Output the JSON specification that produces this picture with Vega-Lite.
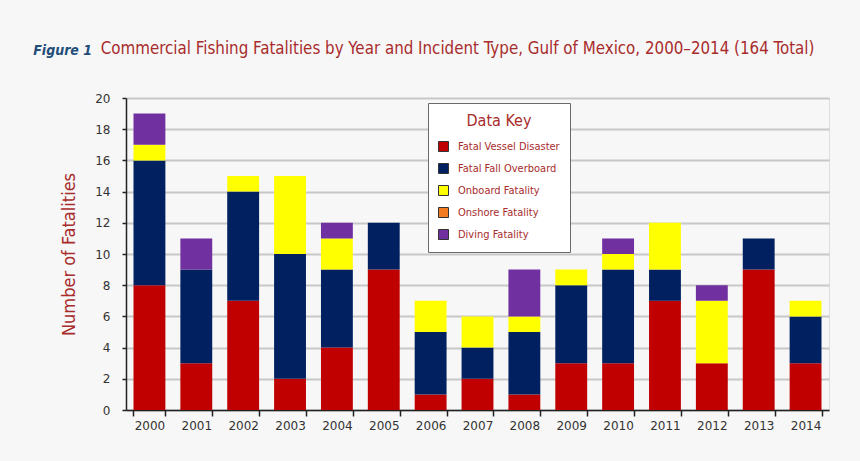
{
  "$schema": "https://vega.github.io/schema/vega-lite/v6.json",
  "background": "#f7f7f7",
  "padding": {"left": 33, "top": 40, "right": 31, "bottom": 29},
  "title": {
    "text": "Figure 1",
    "anchor": "start",
    "font": "DejaVu Sans Condensed",
    "fontStyle": "italic",
    "fontWeight": "bold",
    "fontSize": 14,
    "color": "#1f4e79",
    "dx": -27,
    "dy": 21
  },
  "vconcat": [
    {
      "title": {
        "text": "Commercial Fishing Fatalities by Year and Incident Type, Gulf of Mexico, 2000–2014 (164 Total)",
        "anchor": "start",
        "dx": 40,
        "dy": 4,
        "offset": 38,
        "font": "DejaVu Sans Condensed",
        "fontWeight": "normal",
        "fontSize": 16.8,
        "color": "#a82c2c"
      },
      "width": 703,
      "height": 312,
      "data": {
        "values": [
          {"year": "2000", "type": "Fatal Vessel Disaster", "n": 8},
          {"year": "2000", "type": "Fatal Fall Overboard", "n": 8},
          {"year": "2000", "type": "Onboard Fatality", "n": 1},
          {"year": "2000", "type": "Diving Fatality", "n": 2},
          {"year": "2001", "type": "Fatal Vessel Disaster", "n": 3},
          {"year": "2001", "type": "Fatal Fall Overboard", "n": 6},
          {"year": "2001", "type": "Diving Fatality", "n": 2},
          {"year": "2002", "type": "Fatal Vessel Disaster", "n": 7},
          {"year": "2002", "type": "Fatal Fall Overboard", "n": 7},
          {"year": "2002", "type": "Onboard Fatality", "n": 1},
          {"year": "2003", "type": "Fatal Vessel Disaster", "n": 2},
          {"year": "2003", "type": "Fatal Fall Overboard", "n": 8},
          {"year": "2003", "type": "Onboard Fatality", "n": 5},
          {"year": "2004", "type": "Fatal Vessel Disaster", "n": 4},
          {"year": "2004", "type": "Fatal Fall Overboard", "n": 5},
          {"year": "2004", "type": "Onboard Fatality", "n": 2},
          {"year": "2004", "type": "Diving Fatality", "n": 1},
          {"year": "2005", "type": "Fatal Vessel Disaster", "n": 9},
          {"year": "2005", "type": "Fatal Fall Overboard", "n": 3},
          {"year": "2006", "type": "Fatal Vessel Disaster", "n": 1},
          {"year": "2006", "type": "Fatal Fall Overboard", "n": 4},
          {"year": "2006", "type": "Onboard Fatality", "n": 2},
          {"year": "2007", "type": "Fatal Vessel Disaster", "n": 2},
          {"year": "2007", "type": "Fatal Fall Overboard", "n": 2},
          {"year": "2007", "type": "Onboard Fatality", "n": 2},
          {"year": "2008", "type": "Fatal Vessel Disaster", "n": 1},
          {"year": "2008", "type": "Fatal Fall Overboard", "n": 4},
          {"year": "2008", "type": "Onboard Fatality", "n": 1},
          {"year": "2008", "type": "Diving Fatality", "n": 3},
          {"year": "2009", "type": "Fatal Vessel Disaster", "n": 3},
          {"year": "2009", "type": "Fatal Fall Overboard", "n": 5},
          {"year": "2009", "type": "Onboard Fatality", "n": 1},
          {"year": "2010", "type": "Fatal Vessel Disaster", "n": 3},
          {"year": "2010", "type": "Fatal Fall Overboard", "n": 6},
          {"year": "2010", "type": "Onboard Fatality", "n": 1},
          {"year": "2010", "type": "Diving Fatality", "n": 1},
          {"year": "2011", "type": "Fatal Vessel Disaster", "n": 7},
          {"year": "2011", "type": "Fatal Fall Overboard", "n": 2},
          {"year": "2011", "type": "Onboard Fatality", "n": 3},
          {"year": "2012", "type": "Fatal Vessel Disaster", "n": 3},
          {"year": "2012", "type": "Onboard Fatality", "n": 4},
          {"year": "2012", "type": "Diving Fatality", "n": 1},
          {"year": "2013", "type": "Fatal Vessel Disaster", "n": 9},
          {"year": "2013", "type": "Fatal Fall Overboard", "n": 2},
          {"year": "2014", "type": "Fatal Vessel Disaster", "n": 3},
          {"year": "2014", "type": "Fatal Fall Overboard", "n": 3},
          {"year": "2014", "type": "Onboard Fatality", "n": 1}
        ]
      },
      "transform": [
        {"calculate": "indexof(['Fatal Vessel Disaster', 'Fatal Fall Overboard', 'Onboard Fatality', 'Onshore Fatality', 'Diving Fatality'], datum.type)", "as": "rank"}
      ],
      "mark": {"type": "bar"},
      "encoding": {
        "x": {
          "field": "year",
          "type": "ordinal",
          "scale": {"paddingInner": 0.32, "paddingOuter": 0.16},
          "axis": {
            "title": null,
            "labelAngle": 0,
            "labelFont": "DejaVu Sans",
            "labelFontSize": 12,
            "labelColor": "#333333",
            "labelPadding": 4,
            "tickBand": "extent",
            "tickSize": 6,
            "tickColor": "#222222",
            "tickWidth": 1.5,
            "domainColor": "#222222",
            "domainWidth": 1.5,
            "grid": false
          }
        },
        "y": {
          "field": "n",
          "type": "quantitative",
          "stack": "zero",
          "scale": {"domain": [0, 20]},
          "axis": {
            "title": "Number of Fatalities",
            "titleFont": "DejaVu Sans Condensed",
            "titleFontWeight": "normal",
            "titleFontSize": 18,
            "titleColor": "#a82c2c",
            "titlePadding": 16,
            "values": [0, 2, 4, 6, 8, 10, 12, 14, 16, 18, 20],
            "labelFont": "DejaVu Sans",
            "labelFontSize": 12,
            "labelColor": "#333333",
            "labelPadding": 12,
            "tickSize": 4,
            "tickColor": "#222222",
            "tickWidth": 1.5,
            "domainColor": "#222222",
            "domainWidth": 1.5,
            "grid": true,
            "gridColor": "#c8c8c8",
            "gridWidth": 2
          }
        },
        "color": {
          "field": "type",
          "type": "nominal",
          "scale": {
            "domain": ["Fatal Vessel Disaster", "Fatal Fall Overboard", "Onboard Fatality", "Onshore Fatality", "Diving Fatality"],
            "range": ["#c00000", "#002060", "#ffff00", "#f47a20", "#7030a0"]
          },
          "legend": {
            "title": "Data Key",
            "orient": "none",
            "legendX": 302,
            "legendY": 5,
            "fillColor": "#ffffff",
            "strokeColor": "#6a6a6a",
            "padding": 10,
            "titleFont": "DejaVu Sans Condensed",
            "titleFontWeight": "normal",
            "titleFontSize": 16,
            "titleColor": "#a82c2c",
            "titleAnchor": "middle",
            "titleAlign": "center",
            "titlePadding": 12,
            "labelFont": "DejaVu Sans Condensed",
            "labelFontSize": 11,
            "labelColor": "#a82c2c",
            "labelOffset": 9,
            "symbolType": "square",
            "symbolSize": 100,
            "symbolStrokeColor": "#333333",
            "symbolStrokeWidth": 1,
            "symbolOpacity": 1,
            "rowPadding": 7
          }
        },
        "order": {"field": "rank", "type": "quantitative"}
      }
    }
  ]
}
